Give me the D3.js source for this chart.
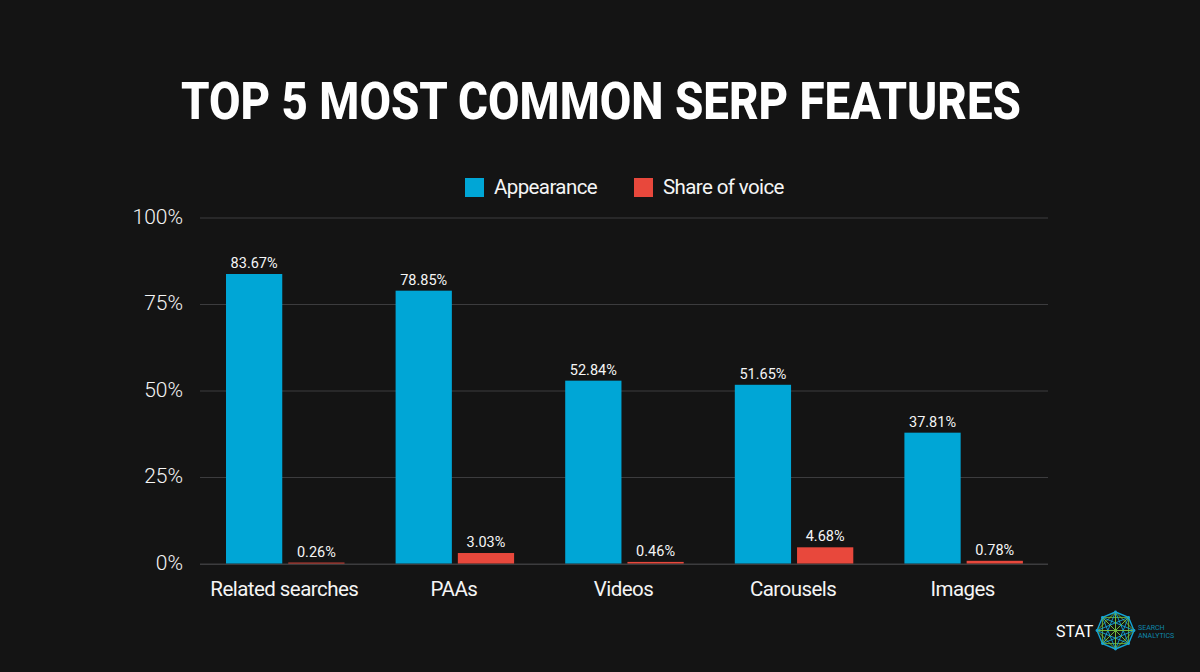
<!DOCTYPE html>
<html><head><meta charset="utf-8">
<script src="https://cdnjs.cloudflare.com/ajax/libs/d3/7.8.5/d3.min.js"></script>
<style>html,body{margin:0;padding:0;background:#141414;overflow:hidden}svg{display:block}text{font-family:Roboto,sans-serif}</style>
</head><body><svg id="c" width="1200" height="672"></svg>
<script>
const categories=["Related searches","PAAs","Videos","Carousels","Images"];
const seriesNames=["Appearance","Share of voice"];
const appearance=[83.67,78.85,52.84,51.65,37.81];
const shareOfVoice=[0.26,3.03,0.46,4.68,0.78];
const yTicks=[0,25,50,75,100];
const colors=["#00a6d6","#e8483c"];
const titleText="TOP 5 MOST COMMON SERP FEATURES";
const logoWords=["STAT","SEARCH","ANALYTICS"];

const svg=d3.select("#c");
svg.append("rect").attr("width",1200).attr("height",672).attr("fill","#141414");
svg.append("text").attr("x",181).attr("y",119).attr("fill","#fff")
 .attr("font-size",51).attr("font-weight",800).attr("textLength",840).attr("lengthAdjust","spacingAndGlyphs").text(titleText);

const x=d3.scaleBand().domain(categories).range([199.5,1047.5]);
const inner=d3.scaleBand().domain(seriesNames).range([26.5,145]).paddingInner(0.096);
const y=d3.scaleLinear().domain([0,100]).range([563.5,217.5]);

const yAxis=d3.axisLeft(y).tickValues(yTicks).tickSize(-848).tickFormat(d=>d+"%");
const gy=svg.append("g").attr("transform","translate(200,0)").call(yAxis);
gy.select(".domain").remove();
gy.selectAll("line").attr("stroke","#3c3c3e").attr("stroke-width",1);
gy.selectAll("text").attr("fill","#f5f5f5").attr("font-size",21).attr("font-weight",300).attr("x",-17).attr("dy","0.28em");

const xAxis=d3.axisBottom(x).tickSize(0);
const gx=svg.append("g").attr("transform","translate(0,564)").call(xAxis);
gx.select(".domain").attr("stroke","#3c3c3e");
gx.selectAll("text").attr("fill","#f5f5f5").attr("font-size",20.5).attr("font-weight",400).attr("letter-spacing",-0.55).attr("y",17).attr("dy","0.71em");

seriesNames.forEach((s,i)=>{
 const vals=i?shareOfVoice:appearance;
 const g=svg.append("g");
 g.selectAll("rect").data(categories).join("rect")
  .attr("x",c=>x(c)+inner(s)).attr("width",inner.bandwidth())
  .attr("y",(c,k)=>y(vals[k])).attr("height",(c,k)=>y(0)-y(vals[k])).attr("fill",colors[i]);
 g.selectAll("text").data(categories).join("text")
  .attr("x",c=>x(c)+inner(s)+inner.bandwidth()/2).attr("y",(c,k)=>y(vals[k])-6)
  .attr("text-anchor","middle").attr("fill","#f5f5f5").attr("font-size",14.5)
  .text((c,k)=>vals[k].toFixed(2)+"%");
});

const legendX=[465,634];
seriesNames.forEach((s,i)=>{
 svg.append("rect").attr("x",legendX[i]).attr("y",178).attr("width",19).attr("height",19).attr("fill",colors[i]);
 svg.append("text").attr("x",legendX[i]+29).attr("y",194).attr("fill","#f5f5f5").attr("font-size",20.5).attr("font-weight",400).attr("letter-spacing",-0.6).text(s);
});

// logo
const logo=svg.append("g").attr("transform","translate(1115.5,630.5)");
const n=8,R=18.5;
const pts=d3.range(n).map(i=>[R*Math.cos(i*2*Math.PI/n+Math.PI/2),-R*Math.sin(i*2*Math.PI/n+Math.PI/2)]);
[[1,"#14a5d8"],[2,"#6fb83f"],[3,"#14a5d8"],[4,"#6fb83f"]].forEach(([st,col])=>{
 pts.forEach((p,i)=>{const q=pts[(i+st)%n];
  logo.append("line").attr("x1",p[0]).attr("y1",p[1]).attr("x2",q[0]).attr("y2",q[1]).attr("stroke",col).attr("stroke-width",st===1?1.4:0.9);});
});
pts.forEach(p=>logo.append("circle").attr("cx",p[0]).attr("cy",p[1]).attr("r",1.4).attr("fill","#14a5d8"));
svg.append("text").attr("x",1056).attr("y",637).attr("fill","#fff").attr("font-size",16).attr("font-weight",400).text(logoWords[0]);
svg.append("text").attr("x",1138).attr("y",630).attr("fill","#0e87ab").attr("font-size",7).text(logoWords[1]);
svg.append("text").attr("x",1138).attr("y",638).attr("fill","#0e87ab").attr("font-size",7).text(logoWords[2]);
</script></body></html>
